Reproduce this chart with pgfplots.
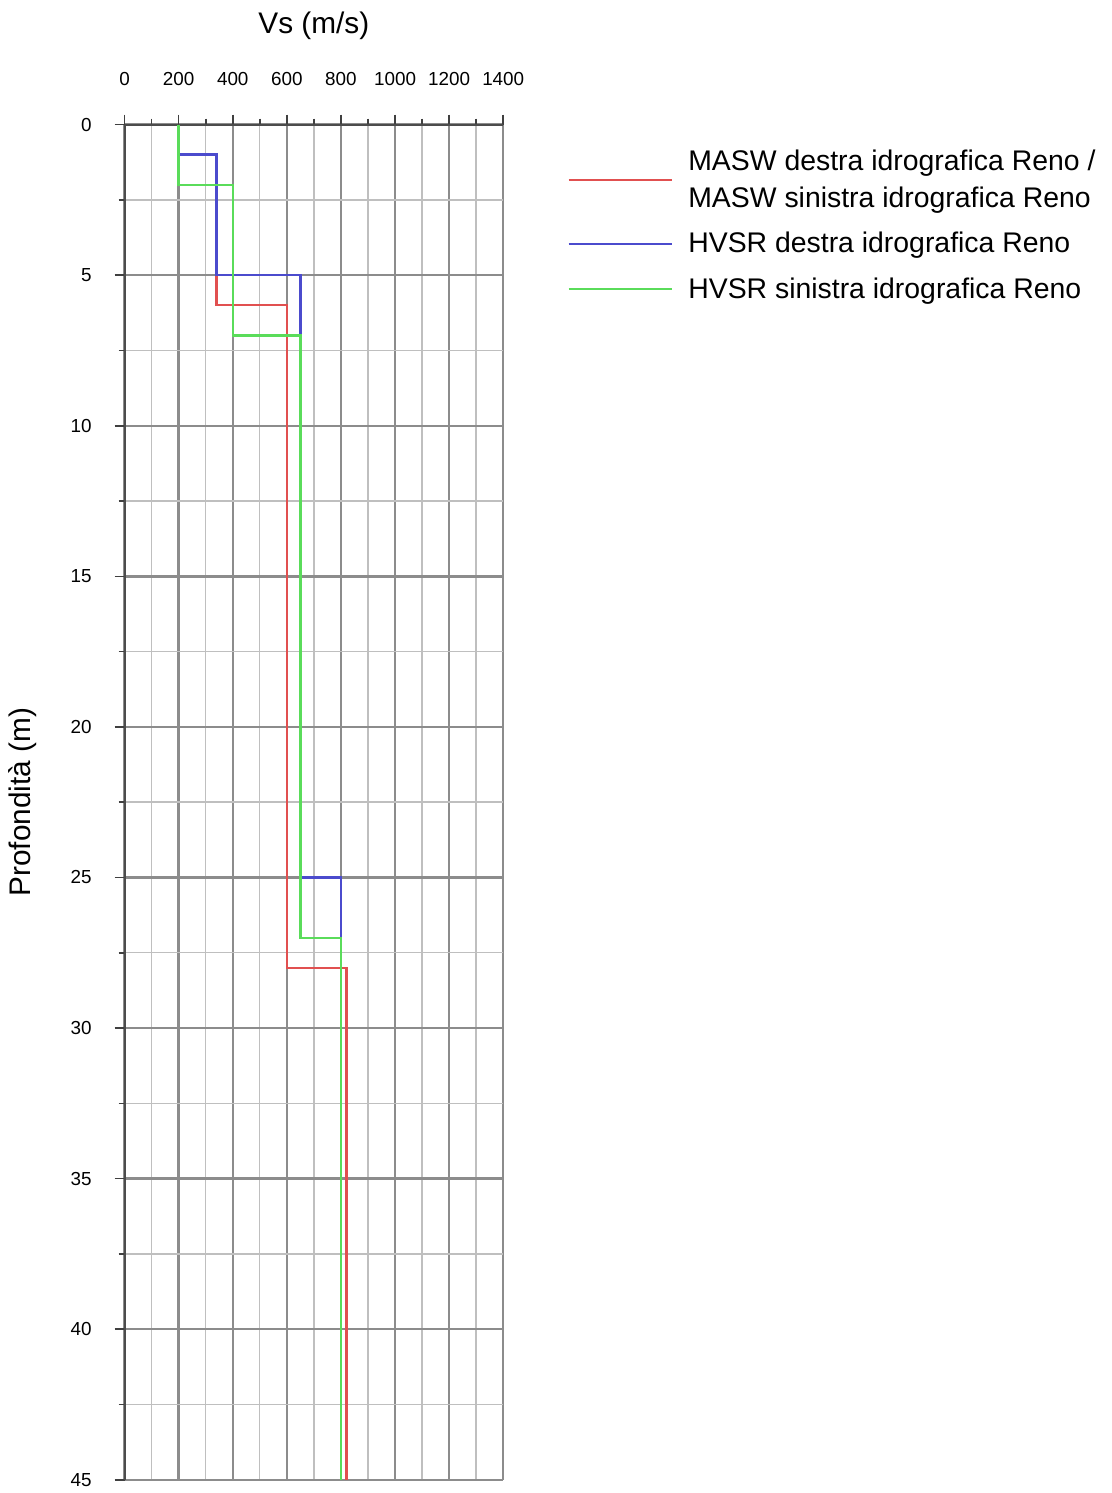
\documentclass[border=0pt]{standalone}
\usepackage{pgfplots}
\pgfplotsset{compat=1.18}
\usepackage{fontspec}
\setmainfont{Liberation Sans}
\usetikzlibrary{calc}
\definecolor{cred}{RGB}{225,80,80}
\definecolor{cblue}{RGB}{75,75,205}
\definecolor{cgreen}{RGB}{90,220,90}
\begin{document}
\begin{tikzpicture}
\begin{axis}[name=ax, scale only axis, width=190bp, height=680bp,
  xmin=0, xmax=1400, ymin=0, ymax=45, y dir=reverse,
  axis x line*=top, axis y line*=left,
  axis line style={black!70, line width=1bp, -},
  xtick={0,200,...,1400}, minor xtick={100,300,...,1300},
  ytick={0,5,...,45}, minor ytick={2.5,7.5,...,42.5},
  grid=both,
  major grid style={black!45, line width=1.2bp},
  minor grid style={black!25, line width=0.7bp},
  tick align=outside, major tick length=5bp, minor tick length=3bp,
  tick style={black!75, line width=0.8bp},
  /pgf/number format/assume math mode=true,
  /pgf/number format/1000 sep={},
  xticklabel style={font=\fontsize{9.5}{11}\selectfont, yshift=11bp},
  yticklabel style={font=\fontsize{9.5}{11}\selectfont, xshift=-8bp},
  title={Vs (m/s)},
  title style={font=\fontsize{15}{18}\selectfont, yshift=33bp},
  ylabel={Profondità (m)},
  ylabel style={font=\fontsize{15}{18}\selectfont, yshift=10bp},
  legend style={at={(1,1)}, anchor=north west, xshift=29bp, yshift=-8.5bp,
    draw=none, fill=none, font=\fontsize{14.3}{18.5}\selectfont,
    cells={anchor=west, align=left}, row sep=7bp,
    /tikz/every odd column/.append style={column sep=5.5bp}},
  legend image code/.code={\draw[#1] (0bp,0bp) -- (52bp,0bp);},
]
\addplot[cred, line width=1.2bp] coordinates {(200,0)(200,1)(340,1)(340,6)(600,6)(600,28)(820,28)(820,45)};
\addlegendentry{MASW destra idrografica Reno /\\MASW sinistra idrografica Reno}
\addplot[cblue, line width=1.2bp] coordinates {(200,0)(200,1)(340,1)(340,5)(650,5)(650,25)(800,25)(800,45)};
\addlegendentry{HVSR destra idrografica Reno}
\addplot[cgreen, line width=1.2bp] coordinates {(200,0)(200,2)(400,2)(400,7)(650,7)(650,27)(800,27)(800,45)};
\addlegendentry{HVSR sinistra idrografica Reno}
\end{axis}
\path[use as bounding box] ($(ax.north west)+(-62.5bp,62.5bp)$) rectangle ++(557.5bp,-746.5bp);
\end{tikzpicture}
\end{document}
